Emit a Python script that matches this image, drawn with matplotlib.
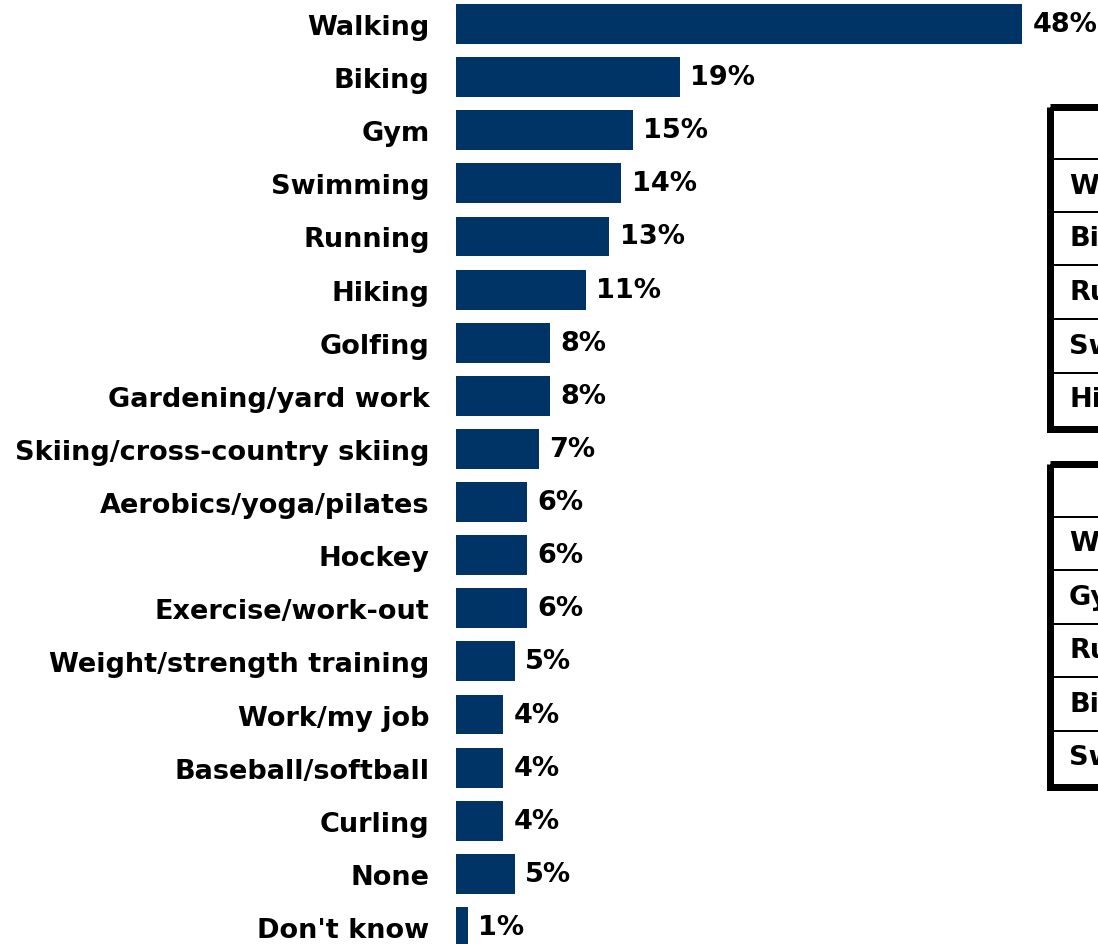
import matplotlib
matplotlib.use("Agg")
import matplotlib.pyplot as plt
from matplotlib.patches import Rectangle
from matplotlib.lines import Line2D
from matplotlib.transforms import Affine2D

categories = ["Walking", "Biking", "Gym", "Swimming", "Running", "Hiking", "Golfing",
              "Gardening/yard work", "Skiing/cross-country skiing", "Aerobics/yoga/pilates",
              "Hockey", "Exercise/work-out", "Weight/strength training", "Work/my job",
              "Baseball/softball", "Curling", "None", "Don't know"]
values = [48, 19, 15, 14, 13, 11, 8, 8, 7, 6, 6, 6, 5, 4, 4, 4, 5, 1]
table1_rows = ["Walking", "Biking", "Running", "Swimming", "Hiking"]
table2_rows = ["Walking", "Gym", "Running", "Biking", "Swimming"]

plt.rcParams["font.family"] = ["DejaVu Sans"]
FS = 19.5
W, H = 1098, 945
fig = plt.figure(figsize=(W / 100, H / 100), dpi=100)
step = 53.12
ax = fig.add_axes([456 / W, 0, 589.6 / W, 1])
ypos = list(range(len(categories)))
ax.barh(ypos, values, height=0.75, color="#003366")
ax.set_xlim(0, 50)
ax.set_ylim(17 + 17 / step, -25 / step)
ax.set_yticks(ypos, categories, fontsize=FS, fontweight="bold")
ax.tick_params(axis="y", length=0, pad=19)
ax.set_xticks([])
for s in ax.spines.values():
    s.set_visible(False)
for yy, v in zip(ypos, values):
    ax.annotate(f"{v}%", (v, yy), xytext=(7.5, 0), textcoords="offset points",
                ha="left", va="center", fontsize=FS, fontweight="bold")

# pixel transform (origin top-left)
t = Affine2D().scale(1 / W, -1 / H).translate(0, 1) + fig.transFigure

def draw_table(top, bottom, dividers, rows):
    thick = 7
    fig.add_artist(Rectangle((1046 + thick / 2, top + thick / 2), 200, bottom - top - thick,
                             fill=False, lw=thick * 0.72, edgecolor="black",
                             transform=t, clip_on=False))
    for d in dividers:
        fig.add_artist(Line2D([1053, 1110], [d, d], lw=2 * 0.72, color="black", transform=t))
    for i, r in enumerate(rows):
        yc = (dividers[i] + (dividers[i + 1] if i + 1 < len(dividers) else bottom - thick)) / 2
        fig.text(1069 / W, 1 - yc / H, r, fontsize=FS, fontweight="bold", ha="left", va="center")

draw_table(104, 433, [160, 213, 266, 320, 374], table1_rows)
draw_table(461, 791, [518, 571, 625, 678, 732], table2_rows)

fig.savefig("out.png", dpi=100)
